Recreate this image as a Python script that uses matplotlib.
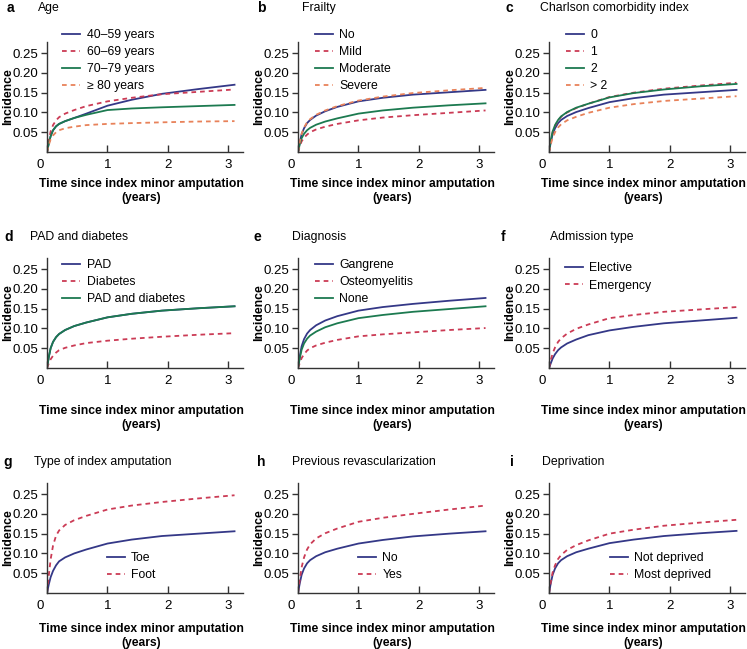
import matplotlib
matplotlib.use("Agg")
import matplotlib.pyplot as plt
from matplotlib.transforms import ScaledTranslation

plt.rcParams['font.family'] = ['Liberation Sans', 'DejaVu Sans']

# time grid (years) shared by all curves
t = [0, 0.03, 0.06, 0.1, 0.15, 0.2, 0.3, 0.45, 0.65, 1.0, 1.4, 1.9, 2.5, 3.1]

# a - Age
age_40_59 = [0, 0.022, 0.040, 0.055, 0.065, 0.071, 0.078, 0.086, 0.097, 0.117, 0.132, 0.147, 0.159, 0.170]
age_60_69 = [0, 0.030, 0.052, 0.068, 0.080, 0.088, 0.097, 0.106, 0.116, 0.128, 0.137, 0.146, 0.152, 0.158]
age_70_79 = [0, 0.022, 0.040, 0.055, 0.065, 0.071, 0.078, 0.086, 0.094, 0.106, 0.110, 0.113, 0.116, 0.119]
age_80 = [0, 0.018, 0.032, 0.042, 0.050, 0.055, 0.060, 0.064, 0.068, 0.071, 0.073, 0.075, 0.077, 0.078]

# b - Frailty
frail_no = [0, 0.025, 0.045, 0.060, 0.073, 0.081, 0.092, 0.103, 0.114, 0.128, 0.137, 0.145, 0.151, 0.157]
frail_mild = [0, 0.015, 0.027, 0.036, 0.044, 0.050, 0.057, 0.064, 0.071, 0.080, 0.087, 0.093, 0.099, 0.105]
frail_moderate = [0, 0.020, 0.035, 0.046, 0.055, 0.061, 0.069, 0.077, 0.085, 0.097, 0.105, 0.112, 0.118, 0.123]
frail_severe = [0, 0.026, 0.046, 0.062, 0.075, 0.083, 0.094, 0.105, 0.116, 0.130, 0.140, 0.149, 0.156, 0.162]

# c - Charlson comorbidity index
cci_0 = [0, 0.025, 0.045, 0.060, 0.073, 0.081, 0.091, 0.101, 0.111, 0.126, 0.136, 0.145, 0.151, 0.157]
cci_1 = [0, 0.028, 0.050, 0.066, 0.080, 0.089, 0.100, 0.111, 0.122, 0.139, 0.150, 0.160, 0.168, 0.175]
cci_2 = [0, 0.030, 0.052, 0.068, 0.081, 0.090, 0.101, 0.112, 0.122, 0.138, 0.149, 0.158, 0.166, 0.172]
cci_gt2 = [0, 0.020, 0.036, 0.050, 0.062, 0.070, 0.080, 0.089, 0.099, 0.112, 0.121, 0.129, 0.135, 0.141]

# d - PAD and diabetes
pad = [0, 0.028, 0.050, 0.066, 0.078, 0.086, 0.096, 0.106, 0.115, 0.128, 0.137, 0.145, 0.151, 0.156]
diabetes = [0, 0.012, 0.022, 0.031, 0.039, 0.045, 0.051, 0.057, 0.063, 0.069, 0.074, 0.079, 0.084, 0.088]
pad_diabetes = [0, 0.028, 0.050, 0.066, 0.078, 0.086, 0.096, 0.106, 0.115, 0.128, 0.137, 0.145, 0.151, 0.156]

# e - Diagnosis
gangrene = [0, 0.030, 0.055, 0.073, 0.087, 0.096, 0.108, 0.120, 0.131, 0.145, 0.154, 0.162, 0.170, 0.177]
osteomyelitis = [0, 0.013, 0.025, 0.035, 0.044, 0.050, 0.057, 0.064, 0.071, 0.080, 0.085, 0.090, 0.096, 0.101]
diag_none = [0, 0.025, 0.046, 0.062, 0.074, 0.082, 0.092, 0.103, 0.113, 0.126, 0.134, 0.142, 0.149, 0.156]

# f - Admission type
elective = [0, 0.012, 0.024, 0.035, 0.045, 0.052, 0.062, 0.072, 0.083, 0.095, 0.104, 0.113, 0.120, 0.127]
emergency = [0, 0.020, 0.037, 0.052, 0.066, 0.075, 0.087, 0.099, 0.110, 0.126, 0.134, 0.142, 0.148, 0.154]

# g - Type of index amputation
toe = [0, 0.022, 0.040, 0.056, 0.070, 0.080, 0.090, 0.100, 0.110, 0.125, 0.135, 0.144, 0.150, 0.156]
foot = [0, 0.045, 0.085, 0.120, 0.145, 0.158, 0.172, 0.184, 0.195, 0.211, 0.221, 0.230, 0.239, 0.247]

# h - Previous revascularization
revasc_no = [0, 0.025, 0.046, 0.062, 0.075, 0.083, 0.093, 0.103, 0.112, 0.125, 0.134, 0.143, 0.150, 0.156]
revasc_yes = [0, 0.035, 0.065, 0.090, 0.110, 0.123, 0.138, 0.151, 0.163, 0.180, 0.190, 0.200, 0.211, 0.221]

# i - Deprivation
not_deprived = [0, 0.025, 0.046, 0.062, 0.075, 0.083, 0.093, 0.103, 0.112, 0.126, 0.135, 0.144, 0.151, 0.157]
most_deprived = [0, 0.028, 0.052, 0.070, 0.086, 0.096, 0.109, 0.121, 0.133, 0.150, 0.160, 0.170, 0.178, 0.185]

BLUE = '#343887'
RED = '#cb3b55'
GREEN = '#1c7a50'
ORANGE = '#e8825a'
solid = '-'
dashed = (0, (2.6, 2.2))

panels = [
    ('a', 'Age', [(age_40_59, '40\u201359 years', BLUE, solid),
                  (age_60_69, '60\u201369 years', RED, dashed),
                  (age_70_79, '70\u201379 years', GREEN, solid),
                  (age_80, '\u2265 80 years', ORANGE, dashed)]),
    ('b', 'Frailty', [(frail_no, 'No', BLUE, solid),
                      (frail_mild, 'Mild', RED, dashed),
                      (frail_moderate, 'Moderate', GREEN, solid),
                      (frail_severe, 'Severe', ORANGE, dashed)]),
    ('c', 'Charlson comorbidity index', [(cci_0, '0', BLUE, solid),
                                         (cci_1, '1', RED, dashed),
                                         (cci_2, '2', GREEN, solid),
                                         (cci_gt2, '> 2', ORANGE, dashed)]),
    ('d', 'PAD and diabetes', [(pad, 'PAD', BLUE, solid),
                               (diabetes, 'Diabetes', RED, dashed),
                               (pad_diabetes, 'PAD and diabetes', GREEN, solid)]),
    ('e', 'Diagnosis', [(gangrene, 'Gangrene', BLUE, solid),
                        (osteomyelitis, 'Osteomyelitis', RED, dashed),
                        (diag_none, 'None', GREEN, solid)]),
    ('f', 'Admission type', [(elective, 'Elective', BLUE, solid),
                             (emergency, 'Emergency', RED, dashed)]),
    ('g', 'Type of index amputation', [(toe, 'Toe', BLUE, solid),
                                       (foot, 'Foot', RED, dashed)]),
    ('h', 'Previous revascularization', [(revasc_no, 'No', BLUE, solid),
                                         (revasc_yes, 'Yes', RED, dashed)]),
    ('i', 'Deprivation', [(not_deprived, 'Not deprived', BLUE, solid),
                          (most_deprived, 'Most deprived', RED, dashed)]),
]

W, H = 747, 649
fig = plt.figure(figsize=(W / 100, H / 100), dpi=100)

col_left = [47, 298, 549]
row_top = [42, 258, 483]
ax_w, ax_h = 196, 110
label_pad = [5, 13, 8]
title_y = [1.31, 1.19, 1.19]
FS = 8.8
# legend anchor (axes coords) per panel
leg_pos = [(0.077, 1.12), (0.087, 1.12), (0.087, 1.12),
           (0.077, 0.99), (0.087, 0.99), (0.08, 0.96),
           (0.305, 0.37), (0.306, 0.37), (0.31, 0.37)]
# horizontal offsets (px from axes left) of panel letter and title
letter_dx = [-40, -41, -44, -43, -45, -48, -44, -41, -39]
title_dx = [-9, 4, -9, -17, -6, 1, -13, -6, -7]

for k, (letter, title, series) in enumerate(panels):
    r, c = divmod(k, 3)
    ax = fig.add_axes([col_left[c] / W, 1 - (row_top[r] + ax_h) / H, ax_w / W, ax_h / H])
    for y, lab, col, ls in series:
        ax.plot(t, y, color=col, linestyle=ls, lw=1.3, label=lab)
    ax.set_xlim(0, 3.24)
    ax.set_ylim(0, 0.278)
    ax.set_xticks([0, 1, 2, 3])
    ax.set_xticklabels(['0', '1', '2', '3'])
    ax.set_yticks([0.05, 0.10, 0.15, 0.20, 0.25])
    ax.set_yticklabels(['0.05', '0.10', '0.15', '0.20', '0.25'])
    for s in ['top', 'right']:
        ax.spines[s].set_visible(False)
    for s in ['left', 'bottom']:
        ax.spines[s].set_color('#333333')
        ax.spines[s].set_linewidth(1.0)
    ax.tick_params(axis='y', direction='out', length=4, width=1, color='#333333',
                   labelsize=9.5, pad=2)
    ax.tick_params(axis='x', direction='in', length=5, width=1, color='#333333',
                   labelsize=9.5, pad=5)
    # the "0" label sits a little left of the y spine in the original
    zero_lab = ax.get_xticklabels()[0]
    zero_lab.set_transform(zero_lab.get_transform() + ScaledTranslation(-0.07, 0, fig.dpi_scale_trans))
    ax.set_ylabel('Incidence', fontsize=FS, fontweight='bold')
    ax.yaxis.set_label_coords(-0.17, 0.5)
    ax.set_xlabel('Time since index minor amputation\n(years)', fontsize=8.7,
                  fontweight='bold', labelpad=label_pad[r], linespacing=1.2)
    ax.xaxis.label.set_x(0.48)
    ax.text(letter_dx[k] / ax_w, title_y[r], letter, transform=ax.transAxes,
            fontsize=10, fontweight='bold', va='center', ha='left')
    ax.text(title_dx[k] / ax_w, title_y[r], title, transform=ax.transAxes,
            fontsize=FS, va='center', ha='left')
    ax.legend(loc='upper left', bbox_to_anchor=leg_pos[k], frameon=False,
              fontsize=FS, handlelength=1.5, handletextpad=0.5,
              labelspacing=0.42, borderpad=0, borderaxespad=0)

fig.savefig('out.png', dpi=100)
